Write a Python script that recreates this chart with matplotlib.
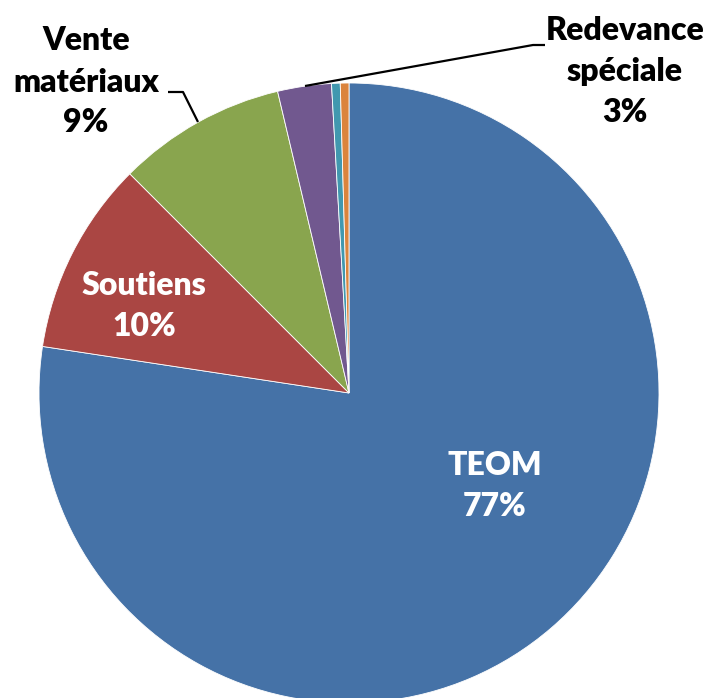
import matplotlib
matplotlib.use("Agg")
import matplotlib.pyplot as plt

categories = ["TEOM", "Soutiens", "Vente\nmatériaux", "Redevance\nspéciale", "Autre 1", "Autre 2"]
values = [77.4, 10.1, 8.8, 2.8, 0.45, 0.45]
colors = ["#4572A7", "#AA4643", "#89A54E", "#71588F", "#4198AF", "#DB843D"]

W, H = 708, 698
fig = plt.figure(figsize=(W / 100, H / 100), dpi=100)
ax = fig.add_axes([0, 0, 1, 1])

cx, cy, r = 349, 393, 310
wedges, _ = ax.pie(values, colors=colors, startangle=-90, counterclock=True,
                   center=(cx, cy), radius=r, frame=True,
                   wedgeprops=dict(edgecolor="white", linewidth=0.6))
ax.set_xlim(0, W)
ax.set_ylim(H, 0)
ax.set_aspect("equal")
ax.axis("off")

total = sum(values)
pct = [f"{round(v / total * 100):d}%" for v in values]

font = dict(family=["Lato", "DejaVu Sans"], fontweight="heavy", fontsize=23,
            ha="center", va="center", linespacing=1.5)

ax.text(495, 486, f"{categories[0]}\n{pct[0]}", color="white", **font)
ax.text(144, 306, f"{categories[1]}\n{pct[1]}", color="white", **font)
ax.text(86, 82, f"{categories[2]}\n{pct[2]}", color="black", **font)
ax.text(625, 72, f"{categories[3]}\n{pct[3]}", color="black", **font)

ax.plot([168, 183, 198], [92, 92, 122], color="black", lw=1.6, solid_capstyle="butt")
ax.plot([305, 533, 545], [86, 45, 45], color="black", lw=1.6, solid_capstyle="butt")

fig.savefig("out.png", dpi=100)
